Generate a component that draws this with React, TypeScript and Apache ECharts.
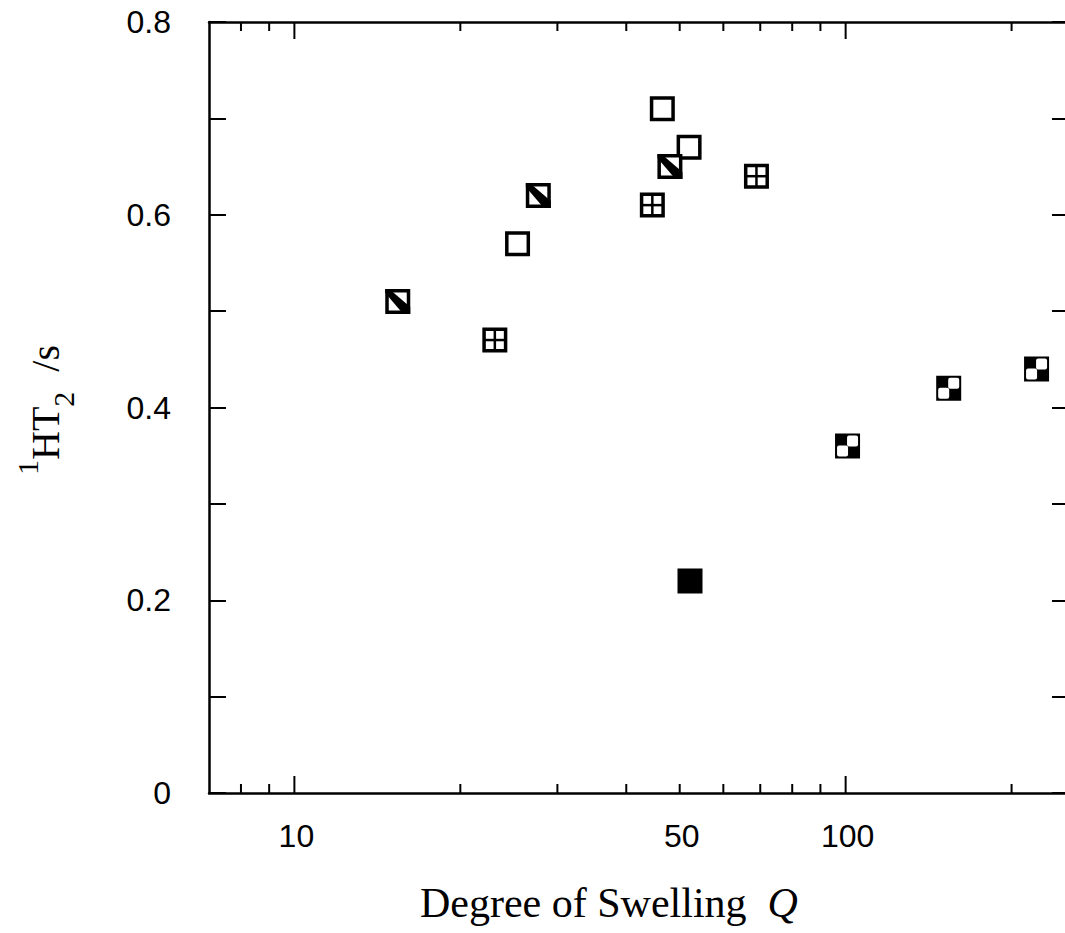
import React, { useEffect, useRef } from "react";
import * as echarts from "echarts";

// Degree of swelling Q (x) vs 1H T2 in seconds (y)
const openQ = [46.5, 52.0, 25.4];
const openT = [0.71, 0.67, 0.57];
const hatchQ = [15.4, 27.7, 48.0];
const hatchT = [0.51, 0.62, 0.65];
const crossQ = [23.1, 44.6, 68.9];
const crossT = [0.47, 0.61, 0.64];
const checkQ = [100.8, 153.8, 222];
const checkT = [0.36, 0.42, 0.44];
const filledQ = [52.2];
const filledT = [0.22];

const xMajorTicks = [10, 100];
const xMinorTicks = [8, 9, 20, 30, 40, 50, 60, 70, 80, 90, 200];
const xTickLabels = [10, 50, 100];

const X_MIN = 7;
const X_MAX = 250;
const Y_MIN = 0;
const Y_MAX = 0.8;

function pairs(xs: number[], ys: number[]) {
  return xs.map((x, i) => [x, ys[i]]);
}

function makeMarker(kind: string) {
  return (params: any, api: any) => {
    const [cx, cy] = api.coord([api.value(0), api.value(1)]);
    const s = 25;
    const lw = 3.5;
    const h = s / 2;
    const x0 = cx - h, y0 = cy - h, x1 = cx + h, y1 = cy + h;
    const dark = kind === "filled" || kind === "check";
    const children: any[] = [
      {
        type: "rect",
        shape: { x: x0 + lw / 2, y: y0 + lw / 2, width: s - lw, height: s - lw },
        style: { fill: dark ? "#000" : "#fff", stroke: "#000", lineWidth: lw },
      },
    ];
    if (kind === "cross") {
      children.push({ type: "line", shape: { x1: x0 + 1, y1: cy, x2: x1 - 1, y2: cy }, style: { stroke: "#000", lineWidth: 2.5 } });
      children.push({ type: "line", shape: { x1: cx, y1: y0 + 1, x2: cx, y2: y1 - 1 }, style: { stroke: "#000", lineWidth: 2.5 } });
    } else if (kind === "hatch") {
      children.push({
        type: "polygon",
        shape: { points: [[x0, y0], [x0 + 4, y0], [x1, y1 - 7], [x1, y1], [x1 - 7, y1], [x0, y0 + 4]] },
        style: { fill: "#000" },
      });
    } else if (kind === "check") {
      children.push({ type: "rect", shape: { x: cx - 0.5, y: cy - 10.5, width: 11, height: 11, r: 2 }, style: { fill: "#fff" } });
      children.push({ type: "rect", shape: { x: cx - 10.5, y: cy - 0.5, width: 11, height: 11, r: 2 }, style: { fill: "#fff" } });
    }
    return { type: "group", children };
  };
}

export default function App() {
  const ref = useRef<HTMLDivElement>(null);
  useEffect(() => {
    if (!ref.current) return;
    const chart = echarts.init(ref.current, undefined, { renderer: "svg" });

    const tickData = [
      ...xMajorTicks.map((v) => [v, 1]),
      ...xMinorTicks.map((v) => [v, 0]),
    ];
    const serif = "Liberation Serif, Times New Roman, serif";

    const option: any = {
      animation: false,
      backgroundColor: "#fff",
      grid: { left: 209, right: -3, top: 22, bottom: 140, containLabel: false },
      xAxis: [
        {
          type: "log",
          logBase: 10,
          min: X_MIN,
          max: X_MAX,
          position: "bottom",
          axisLine: { show: true, lineStyle: { color: "#000", width: 2.5 } },
          axisTick: { show: false },
          axisLabel: { show: false },
          splitLine: { show: false },
          minorTick: { show: false },
        },
        {
          type: "log",
          logBase: 10,
          min: X_MIN,
          max: X_MAX,
          position: "top",
          axisLine: { show: true, onZero: false, lineStyle: { color: "#000", width: 2.5 } },
          axisTick: { show: false },
          axisLabel: { show: false },
          splitLine: { show: false },
        },
      ],
      yAxis: [
        {
          type: "value",
          min: Y_MIN,
          max: Y_MAX,
          interval: 0.1,
          position: "left",
          axisLine: { show: true, lineStyle: { color: "#000", width: 2.5 } },
          axisTick: { show: true, inside: true, length: 17, lineStyle: { color: "#000", width: 2 } },
          axisLabel: {
            show: true,
            margin: 38,
            fontSize: 32,
            fontFamily: "Liberation Sans, Arial, sans-serif",
            color: "#000",
            padding: [8, 0, 0, 0],
            formatter: (v: number) => {
              const k = Math.round(v * 10);
              if (k % 2 !== 0) return "";
              return k === 0 ? "0" : (k / 10).toFixed(1);
            },
          },
          splitLine: { show: false },
        },
        {
          type: "value",
          min: Y_MIN,
          max: Y_MAX,
          interval: 0.1,
          position: "right",
          axisLine: { show: false },
          axisTick: { show: true, inside: true, length: 13, lineStyle: { color: "#000", width: 2 } },
          axisLabel: { show: false },
          splitLine: { show: false },
        },
      ],
      graphic: [
        {
          type: "text",
          x: 420,
          y: 903,
          style: {
            text: "{a|Degree of Swelling  }{q|Q}",
            textVerticalAlign: "middle",
            verticalAlign: "middle",
            rich: {
              a: { fontFamily: serif, fontSize: 42, fill: "#000", color: "#000" },
              q: { fontFamily: serif, fontSize: 42, fontStyle: "italic", fill: "#000", color: "#000" },
            },
          },
        },
        {
          type: "text",
          x: 45,
          y: 410,
          rotation: Math.PI / 2,
          style: {
            text: "{sup|1}{m|HT}{sub|2}{m|  /s}",
            align: "center",
            verticalAlign: "middle",
            textAlign: "center",
            textVerticalAlign: "middle",
            rich: {
              sup: { fontFamily: serif, fontSize: 30, lineHeight: 34, verticalAlign: "top", fill: "#000", color: "#000" },
              m: { fontFamily: serif, fontSize: 40, lineHeight: 66, fill: "#000", color: "#000" },
              sub: { fontFamily: serif, fontSize: 30, lineHeight: 28, verticalAlign: "bottom", fill: "#000", color: "#000" },
            },
          },
        },
      ],
      series: [
        {
          name: "xticks",
          type: "custom",
          xAxisIndex: 0,
          yAxisIndex: 0,
          silent: true,
          clip: false,
          data: tickData,
          renderItem: (params: any, api: any) => {
            const v = api.value(0);
            const major = api.value(1) === 1;
            const pb = api.coord([v, Y_MIN]);
            const pt = api.coord([v, Y_MAX]);
            const len = major ? 17 : 9;
            return {
              type: "group",
              children: [
                { type: "line", shape: { x1: pb[0], y1: pb[1], x2: pb[0], y2: pb[1] - len }, style: { stroke: "#000", lineWidth: 2 } },
                { type: "line", shape: { x1: pt[0], y1: pt[1], x2: pt[0], y2: pt[1] + len }, style: { stroke: "#000", lineWidth: 2 } },
              ],
            };
          },
          z: 5,
        },
        {
          name: "xlabels",
          type: "custom",
          xAxisIndex: 0,
          yAxisIndex: 0,
          silent: true,
          clip: false,
          data: xTickLabels.map((v) => [v, 0]),
          renderItem: (params: any, api: any) => {
            const v = api.value(0);
            const p = api.coord([v, Y_MIN]);
            return {
              type: "text",
              x: p[0] + 2,
              y: p[1] + 43,
              style: {
                text: String(v),
                fontSize: 32,
                fontFamily: "Liberation Sans, Arial, sans-serif",
                fill: "#000",
                align: "center",
                verticalAlign: "middle",
              },
            };
          },
        },
        { name: "open", type: "custom", clip: false, data: pairs(openQ, openT), renderItem: makeMarker("open"), z: 10 },
        { name: "hatched", type: "custom", clip: false, data: pairs(hatchQ, hatchT), renderItem: makeMarker("hatch"), z: 11 },
        { name: "cross", type: "custom", clip: false, data: pairs(crossQ, crossT), renderItem: makeMarker("cross"), z: 10 },
        { name: "checkered", type: "custom", clip: false, data: pairs(checkQ, checkT), renderItem: makeMarker("check"), z: 10 },
        { name: "filled", type: "custom", clip: false, data: pairs(filledQ, filledT), renderItem: makeMarker("filled"), z: 10 },
      ],
    };
    chart.setOption(option);
    return () => chart.dispose();
  }, []);

  return (
    <div
      ref={ref}
      style={{ position: "absolute", left: 0, top: 0, width: 1065, height: 933, background: "#fff" }}
    />
  );
}
